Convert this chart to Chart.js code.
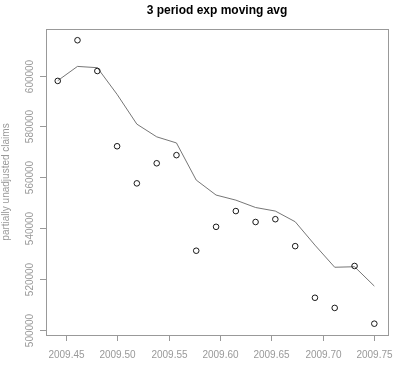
<!DOCTYPE html>
<html>
<head>
<meta charset="utf-8">
<script src="https://cdn.jsdelivr.net/npm/chart.js@4/dist/chart.umd.min.js"></script>
<style>
  body { margin: 0; background: #fff; }
  canvas { display: block; }
</style>
</head>
<body>
<canvas id="canvas" width="400" height="365"></canvas>
<script>
// weekly time index (fraction of year)
const weeks = [2009.4423, 2009.4615, 2009.4808, 2009.5000, 2009.5192, 2009.5385, 2009.5577, 2009.5769,
  2009.5962, 2009.6154, 2009.6346, 2009.6538, 2009.6731, 2009.6923, 2009.7115, 2009.7308, 2009.7500];
const claims = [597900, 613900, 601800, 572200, 557600, 565500, 568700, 531100,
  540500, 546700, 542400, 543500, 532900, 512600, 508600, 525100, 502400];
const expAvg = [598000, 603600, 603100, 592600, 580900, 575900, 573500, 558900,
  553000, 551000, 548100, 546700, 542500, 533300, 524600, 524800, 517200];
const xTicks = [2009.45, 2009.50, 2009.55, 2009.60, 2009.65, 2009.70, 2009.75];
const yTicks = [500000, 520000, 540000, 560000, 580000, 600000];

const FONT = '"Liberation Sans", Arial, sans-serif';

const rAxes = {
  id: 'rAxes',
  afterDraw(chart) {
    const ctx = chart.ctx;
    const a = chart.chartArea;
    const xs = chart.scales.x, ys = chart.scales.y;
    ctx.save();
    ctx.strokeStyle = '#999';
    ctx.lineWidth = 1;
    ctx.strokeRect(Math.round(a.left) + 0.5, Math.round(a.top) + 0.5,
      Math.round(a.right - a.left), Math.round(a.bottom - a.top));

    ctx.fillStyle = '#999';
    ctx.font = '10px ' + FONT;
    // x ticks
    ctx.textAlign = 'center';
    ctx.textBaseline = 'middle';
    xTicks.forEach(t => {
      const px = Math.round(xs.getPixelForValue(t)) + 0.5;
      ctx.beginPath();
      ctx.moveTo(px, a.bottom);
      ctx.lineTo(px, a.bottom + 6);
      ctx.stroke();
      ctx.fillText(t.toFixed(2), px, a.bottom + 20);
    });
    // y ticks, rotated like base R
    yTicks.forEach(v => {
      const py = Math.round(ys.getPixelForValue(v)) + 0.5;
      ctx.beginPath();
      ctx.moveTo(a.left - 6, py);
      ctx.lineTo(a.left, py);
      ctx.stroke();
      ctx.save();
      ctx.translate(a.left - 16, py);
      ctx.rotate(-Math.PI / 2);
      ctx.fillText(String(v), 0, 0);
      ctx.restore();
    });
    // y label
    ctx.save();
    ctx.translate(6, (a.top + a.bottom) / 2);
    ctx.rotate(-Math.PI / 2);
    ctx.fillText('partially unadjusted claims', 0, 0);
    ctx.restore();
    // title
    ctx.fillStyle = '#000';
    ctx.font = 'bold 12px ' + FONT;
    ctx.fillText('3 period exp moving avg', (a.left + a.right) / 2, 11);
    ctx.restore();
  }
};

new Chart(document.getElementById('canvas').getContext('2d'), {
  type: 'scatter',
  data: {
    datasets: [{
      label: 'claims',
      data: weeks.map((w, i) => ({x: w, y: claims[i]})),
      showLine: false,
      pointStyle: 'circle',
      pointRadius: 2.8,
      pointBorderWidth: 0.9,
      pointBorderColor: '#000',
      pointBackgroundColor: 'rgba(0,0,0,0)'
    }, {
      label: 'exp avg',
      data: weeks.map((w, i) => ({x: w, y: expAvg[i]})),
      showLine: true,
      borderColor: '#666',
      borderWidth: 0.9,
      pointRadius: 0,
      tension: 0
    }]
  },
  options: {
    responsive: false,
    animation: false,
    layout: { padding: { left: 46, top: 29, right: 12, bottom: 30 } },
    plugins: { legend: { display: false }, tooltip: { enabled: false } },
    scales: {
      x: { type: 'linear', display: false, min: 2009.4309, max: 2009.7633 },
      y: { type: 'linear', display: false, min: 497950, max: 618320 }
    }
  },
  plugins: [rAxes]
});
</script>
</body>
</html>
